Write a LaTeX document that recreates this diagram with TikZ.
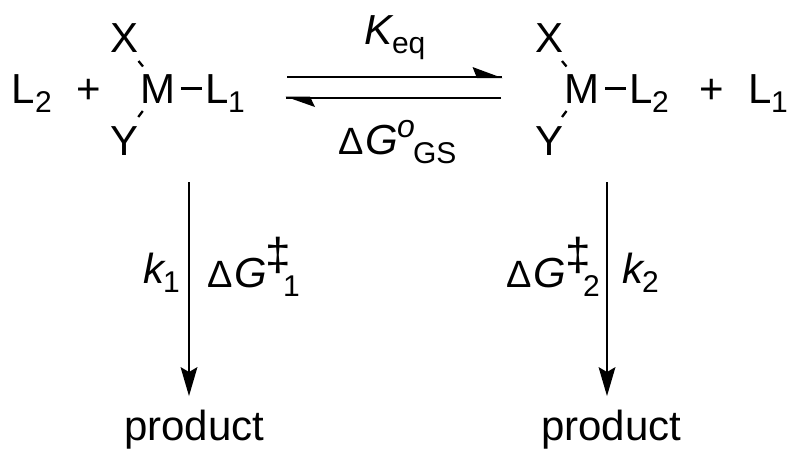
\documentclass[tikz,border=0pt]{standalone}
\usepackage{fontspec}
\setmainfont{Liberation Sans}
\begin{document}
\begin{tikzpicture}[x=1pt,y=-1pt,
  big/.style={inner sep=0pt,outer sep=0pt,anchor=base west,font=\fontsize{42}{42}\selectfont},
  bigc/.style={inner sep=0pt,outer sep=0pt,anchor=base,font=\fontsize{42}{42}\selectfont},
  bigit/.style={big,font=\fontsize{42}{42}\selectfont\itshape},
  delta/.style={big,font=\fontsize{38}{38}\selectfont},
  small/.style={inner sep=0pt,outer sep=0pt,anchor=base west,font=\fontsize{30}{30}\selectfont},
  smallit/.style={small,font=\fontsize{32}{32}\selectfont\itshape},
  dag/.style={inner sep=0pt,outer sep=0pt,anchor=base,font=\fontsize{46}{46}\selectfont},
  bond/.style={line width=2.3pt,black},
  eqline/.style={line width=2.2pt,black},
  vline/.style={line width=2.3pt,black},
  tip/.style={fill=black,draw=none}]
\useasboundingbox (0,0) rectangle (791,451);
% left complex
\node[big] (lb) at (12,103) {L};
\node[small] (lbs) at (35,112) {2};
\node[bigc] (pa) at (89,103) {+};
\node[bigc] (xa) at (125,52) {X};
\node[bigc] (ya) at (125,155) {Y};
\node[bigc] (ma) at (158,103) {M};
\node[big] (la) at (205,103) {L};
\node[small] (las) at (228,112) {1};
\coordinate (xa1) at (138.5,61); \coordinate (xa2) at (143,66.5);
\coordinate (ya1) at (142.8,111); \coordinate (ya2) at (138.3,117);
\draw[bond] (xa1) -- (xa2);
\draw[bond] (ya1) -- (ya2);
\draw[bond,shorten <=5.5pt,shorten >=3pt] (ma.east) -- (la.west);
% right complex
\node[bigc] (xb) at (549,52) {X};
\node[bigc] (yb) at (549,155) {Y};
\node[bigc] (mb) at (582,103) {M};
\node[big] (lc) at (629,103) {L};
\node[small] (lcs) at (652,112) {2};
\node[bigc] (pb) at (712,103) {+};
\node[big] (ld) at (748,103) {L};
\node[small] (lds) at (771,112) {1};
\coordinate (xb1) at (562,61); \coordinate (xb2) at (566.5,66.5);
\coordinate (yb1) at (566.5,111); \coordinate (yb2) at (562,117);
\draw[bond] (xb1) -- (xb2);
\draw[bond] (yb1) -- (yb2);
\draw[bond,shorten <=5.5pt,shorten >=3pt] (mb.east) -- (lc.west);
% equilibrium arrows
\coordinate (e1) at (287,77); \coordinate (e2) at (502,77);
\coordinate (e3) at (501,97.7); \coordinate (e4) at (286,97.7);
\draw[eqline] (e1) -- (e2);
\draw[eqline] (e3) -- (e4);
\fill[tip] (502.5,78.1) -- (472.5,67) -- (477,78.1) -- cycle;
\fill[tip] (285.5,96.6) -- (315,107) -- (310,96.6) -- cycle;
% equilibrium labels
\node[bigit] (k) at (364,44) {K};
\node[small] (keq) at (392,53) {eq};
\node[delta] (d0) at (338,154) {Δ};
\node[bigit] (g0) at (365,154) {G};
\node[smallit] (o0) at (397,137) {o};
\node[small] (gs) at (413,163) {GS};
% vertical arrows
\node[big] (p1) at (124,440) {product};
\node[big] (p2) at (541,440) {product};
\coordinate (v1) at (189,182); \coordinate (v1e) at (189,392);
\coordinate (v2) at (607,182); \coordinate (v2e) at (607,392);
\draw[vline] (v1) -- (v1e);
\draw[vline] (v2) -- (v2e);
\fill[tip] (189,396) -- (180.5,367) -- (189,372) -- (197.5,367) -- cycle;
\fill[tip] (607,396) -- (598.5,367) -- (607,372) -- (615.5,367) -- cycle;
% left vertical labels
\node[bigit] (k1) at (143,283) {k};
\node[small] (k1s) at (163,292) {1};
\node[delta] (d1) at (207,287) {Δ};
\node[bigit] (g1) at (234,287) {G};
\node[dag] (t1) at (278,270) {‡};
\node[small] (g1s) at (283,296) {1};
% right vertical labels
\node[delta] (d2) at (506,287) {Δ};
\node[bigit] (g2) at (533,287) {G};
\node[dag] (t2) at (578,270) {‡};
\node[small] (g2s) at (583,296) {2};
\node[bigit] (k2) at (622,283) {k};
\node[small] (k2s) at (642,292) {2};
\end{tikzpicture}
\end{document}
